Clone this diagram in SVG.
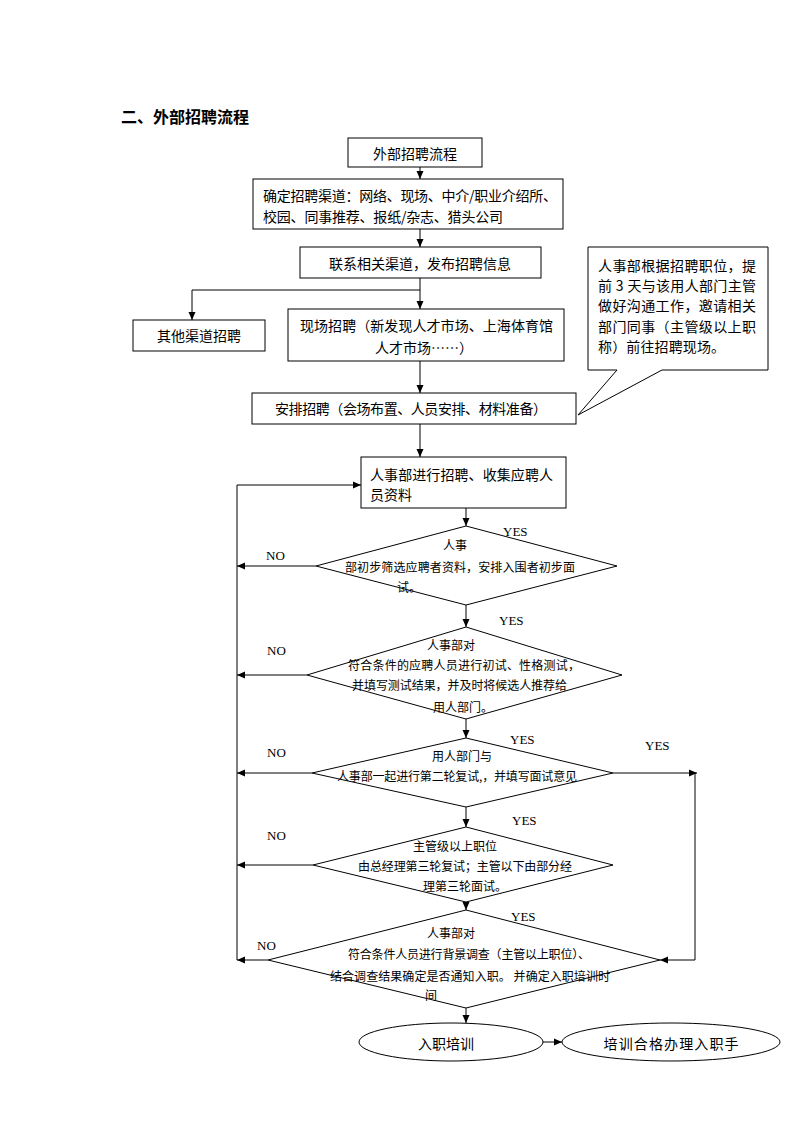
<svg xmlns="http://www.w3.org/2000/svg" width="793" height="1122" viewBox="0 0 793 1122">
<defs>
<style>
.n{fill:#fff;stroke:#000;stroke-width:1}
.c{fill:none;stroke:#000;stroke-width:1}
.t{font-family:"Noto Sans CJK SC","Liberation Serif",sans-serif;font-size:14px;fill:#000;dominant-baseline:central}
.s{font-size:12px}
.m{text-anchor:middle}
.yn{font-family:"Liberation Serif",serif;font-size:13px;fill:#000;dominant-baseline:central}
.h{font-family:"Noto Sans CJK SC",sans-serif;font-size:16px;font-weight:bold;fill:#000;dominant-baseline:central}
</style>
<marker id="a" markerUnits="userSpaceOnUse" markerWidth="9" markerHeight="8" refX="8" refY="4" orient="auto">
<path d="M0,0.5 L8,4 L0,7.5 Z" fill="#000"/>
</marker>
</defs>
<rect width="793" height="1122" fill="#fff"/>
<text class="h" x="121" y="116">二、外部招聘流程</text>

<g id="connectors">
<path class="c" d="M420,167 V179" marker-end="url(#a)"/>
<path class="c" d="M420,229 V247" marker-end="url(#a)"/>
<path class="c" d="M420,278 V290 H192 V320" marker-end="url(#a)"/>
<path class="c" d="M420,290 V309" marker-end="url(#a)"/>
<path class="c" d="M420,361 V393" marker-end="url(#a)"/>
<path class="c" d="M420,424 V457" marker-end="url(#a)"/>
<path class="c" d="M466,508 V526" marker-end="url(#a)"/>
<path class="c" d="M466,605 V627" marker-end="url(#a)"/>
<path class="c" d="M466,719 V738" marker-end="url(#a)"/>
<path class="c" d="M466,807 V827" marker-end="url(#a)"/>
<path class="c" d="M466,902 V910" marker-end="url(#a)"/>
<path class="c" d="M466,1008 V1023" marker-end="url(#a)"/>
<path class="c" d="M543,1042 H562" marker-end="url(#a)"/>
<path class="c" d="M316,566 H237" marker-end="url(#a)"/>
<path class="c" d="M307,675 H237" marker-end="url(#a)"/>
<path class="c" d="M312,773 H237" marker-end="url(#a)"/>
<path class="c" d="M313,865 H237" marker-end="url(#a)"/>
<path class="c" d="M268,960 H237" marker-end="url(#a)"/>
<path class="c" d="M237,960 V485 H361" marker-end="url(#a)"/>
<path class="c" d="M613,773 H697" marker-end="url(#a)"/>
<path class="c" d="M695,773 V960 H660" marker-end="url(#a)"/>
</g>

<g id="start">
<rect class="n" x="348" y="138" width="134" height="29"/>
<text class="t m" x="415" y="153">外部招聘流程</text>
</g>
<g id="channels">
<rect class="n" x="253" y="179" width="310" height="50"/>
<text class="t" x="263" y="195" textLength="294" lengthAdjust="spacing">确定招聘渠道：网络、现场、中介/职业介绍所、</text>
<text class="t" x="263" y="216" textLength="240" lengthAdjust="spacing">校园、同事推荐、报纸/杂志、猎头公司</text>
</g>
<g id="publish">
<rect class="n" x="300" y="247" width="241" height="31"/>
<text class="t m" x="420" y="263">联系相关渠道，发布招聘信息</text>
</g>
<g id="other">
<rect class="n" x="133" y="320" width="132" height="31"/>
<text class="t m" x="199" y="335">其他渠道招聘</text>
</g>
<g id="onsite">
<rect class="n" x="288" y="309" width="276" height="52"/>
<text class="t" x="300" y="325" textLength="253" lengthAdjust="spacing">现场招聘（新发现人才市场、上海体育馆</text>
<text class="t m" x="424" y="347">人才市场……）</text>
</g>
<g id="arrange">
<rect class="n" x="252" y="393" width="324" height="31"/>
<text class="t" x="275" y="408" textLength="272" lengthAdjust="spacing">安排招聘（会场布置、人员安排、材料准备）</text>
</g>
<g id="note">
<path class="n" d="M588,247 H768 V370 H662 L578,415 L617,370 H588 Z"/>
<text class="t" x="598" y="265" textLength="158" lengthAdjust="spacing">人事部根据招聘职位，提</text>
<text class="t" x="598" y="285" textLength="158" lengthAdjust="spacing">前 3 天与该用人部门主管</text>
<text class="t" x="598" y="305" textLength="158" lengthAdjust="spacing">做好沟通工作，邀请相关</text>
<text class="t" x="598" y="326" textLength="158" lengthAdjust="spacing">部门同事（主管级以上职</text>
<text class="t" x="598" y="346" textLength="127" lengthAdjust="spacing">称）前往招聘现场。</text>
</g>
<g id="collect">
<rect class="n" x="361" y="457" width="205" height="51"/>
<text class="t" x="370" y="474" textLength="183" lengthAdjust="spacing">人事部进行招聘、收集应聘人</text>
<text class="t" x="370" y="494">员资料</text>
</g>
<g id="d1">
<polygon class="n" points="466,526 617,566 466,605 316,566"/>
<text class="t s" x="443" y="544">人事</text>
<text class="t s" x="345" y="566" textLength="230" lengthAdjust="spacing">部初步筛选应聘者资料，安排入围者初步面</text>
<text class="t s" x="397" y="586">试。</text>
</g>
<g id="d2">
<polygon class="n" points="466,627 622,675 466,719 307,675"/>
<text class="t s" x="427" y="644">人事部对</text>
<text class="t s" x="348" y="664" textLength="232" lengthAdjust="spacing">符合条件的应聘人员进行初试、性格测试，</text>
<text class="t s" x="352" y="684" textLength="215" lengthAdjust="spacing">并填写测试结果，并及时将候选人推荐给</text>
<text class="t s" x="433" y="706">用人部门。</text>
</g>
<g id="d3">
<polygon class="n" points="466,738 613,773 466,807 312,773"/>
<text class="t s" x="432" y="755">用人部门与</text>
<text class="t s" x="337" y="775" textLength="240" lengthAdjust="spacing">人事部一起进行第二轮复试,，并填写面试意见</text>
</g>
<g id="d4">
<polygon class="n" points="466,827 613,865 466,902 313,865"/>
<text class="t s" x="413" y="845">主管级以上职位</text>
<text class="t s" x="358" y="865" textLength="214" lengthAdjust="spacing">由总经理第三轮复试；主管以下由部分经</text>
<text class="t s" x="423" y="885">理第三轮面试。</text>
</g>
<g id="d5">
<polygon class="n" points="466,910 660,960 466,1008 268,960"/>
<text class="t s" x="427" y="932">人事部对</text>
<text class="t s" x="348" y="953" textLength="242" lengthAdjust="spacing">符合条件人员进行背景调查（主管以上职位）、</text>
<text class="t s" x="330" y="975" textLength="280" lengthAdjust="spacing">结合调查结果确定是否通知入职。 并确定入职培训时</text>
<text class="t s" x="425" y="994">间</text>
</g>
<g id="training">
<ellipse class="n" cx="451" cy="1042" rx="92" ry="19"/>
<text class="t m" x="446" y="1043">入职培训</text>
</g>
<g id="onboard">
<ellipse class="n" cx="671" cy="1042" rx="109" ry="19"/>
<text class="t m" x="671" y="1043" textLength="135" lengthAdjust="spacing">培训合格办理入职手</text>
</g>
<g id="labels">
<text class="yn" x="503" y="531">YES</text>
<text class="yn" x="266" y="555">NO</text>
<text class="yn" x="499" y="620">YES</text>
<text class="yn" x="267" y="650">NO</text>
<text class="yn" x="510" y="739">YES</text>
<text class="yn" x="645" y="745">YES</text>
<text class="yn" x="267" y="752">NO</text>
<text class="yn" x="512" y="820">YES</text>
<text class="yn" x="267" y="835">NO</text>
<text class="yn" x="511" y="916">YES</text>
<text class="yn" x="257" y="945">NO</text>
</g>
</svg>
